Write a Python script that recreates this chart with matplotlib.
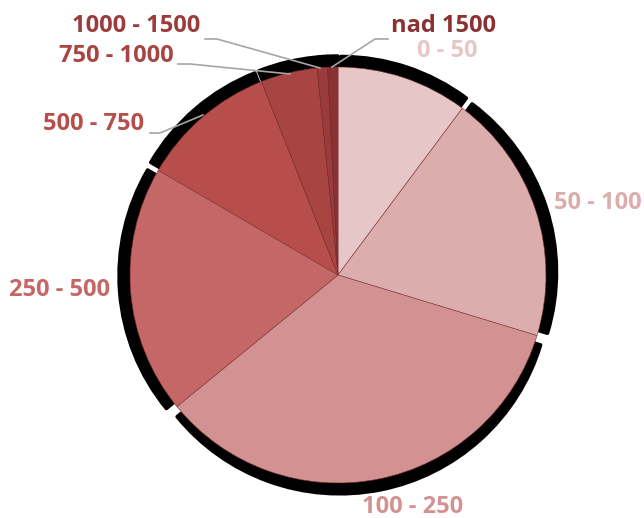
import numpy as np
import matplotlib
matplotlib.use('Agg')
import matplotlib.pyplot as plt
from matplotlib.patches import Wedge

# share of each size class (percent)
categories = ['0 - 50', '50 - 100', '100 - 250', '250 - 500',
              '500 - 750', '750 - 1000', '1000 - 1500', 'nad 1500']
shares = [10.2, 19.5, 34.4, 19.3, 10.6, 4.4, 0.8, 0.8]
colors = ['#E6C6C6', '#DBADAD', '#D39292', '#C56767',
          '#B84E4B', '#A84543', '#9C3B3B', '#8A3232']

W, H = 644, 518
fig = plt.figure(figsize=(W / 100, H / 100), dpi=100)
ax = fig.add_axes([0, 0, 1, 1])

cx, cy, r = 338, H - 275, 208

# black shadow: every wedge pushed out a little, with soft corners
ang = 90.0
for s in shares:
    span = s * 3.6
    mid = np.radians(ang - span / 2)
    off = 9
    ax.add_patch(Wedge((cx + off * np.cos(mid), cy + off * np.sin(mid)), r + 2,
                       ang - span, ang, facecolor='black', edgecolor='black',
                       lw=2.5, joinstyle='round', zorder=1))
    ang -= span

wedges, _ = ax.pie(shares, colors=colors, startangle=90, counterclock=False,
                   center=(cx, cy), radius=r, frame=True,
                   wedgeprops=dict(edgecolor='#7a3030', linewidth=0.4))
for w in wedges:
    w.set_zorder(2)
ax.set_xlim(0, W)
ax.set_ylim(0, H)
ax.set_aspect('equal')
ax.axis('off')

# label positions (pixels from top-left)
label_pos = [(447, 51), (598, 203), (413, 507), (60, 290),
             (94, 124), (116, 56), (136, 26), (444, 26)]
for name, c, (px, py) in zip(categories, colors, label_pos):
    ax.text(px, H - py, name, color=c, fontsize=17, fontweight='bold',
            family='Open Sans', ha='center', va='center', zorder=5)

# leader lines for the thin slices
leaders = [
    [(150, 133), (160, 133), (203, 115)],
    [(178, 64), (190, 64), (290, 74)],
    [(205, 39), (217, 39), (320, 68)],
    [(388, 39), (375, 39), (332, 67)],
]
for pts in leaders:
    xs = [p[0] for p in pts]
    ys = [H - p[1] for p in pts]
    ax.plot(xs, ys, color='#A6A6A6', lw=1.2, zorder=4)

fig.savefig('out.png', dpi=100)
